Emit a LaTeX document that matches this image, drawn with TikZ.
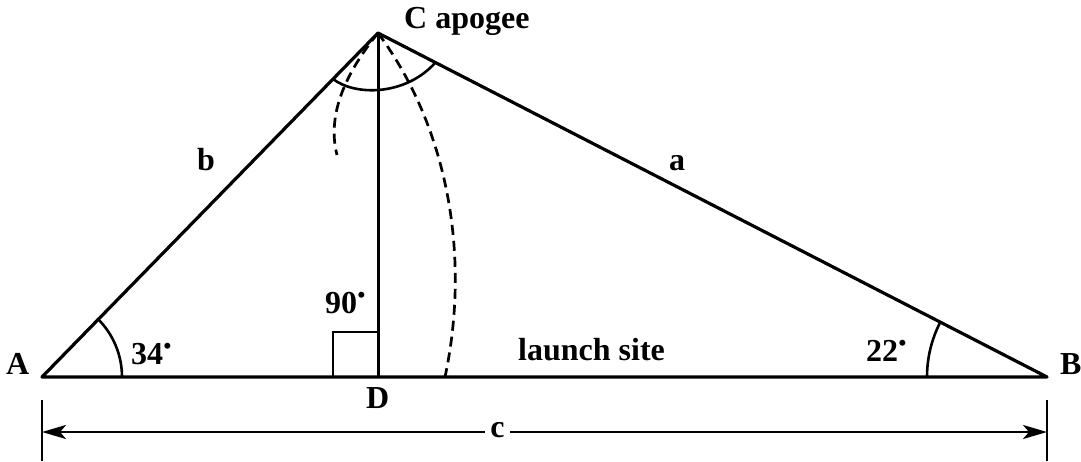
\documentclass[tikz,border=0pt]{standalone}
\usepackage{fontspec}
\setmainfont{Liberation Serif}
\usetikzlibrary{arrows.meta}
\newcommand\degdot{\raisebox{11pt}{\fontsize{22}{22}\selectfont\kern0.5pt•}}
\begin{document}
\begin{tikzpicture}[x=1pt,y=-1pt,
  side/.style={line width=3.2pt,line cap=round,line join=round},
  altline/.style={line width=3.0pt},
  arcline/.style={line width=2.6pt},
  dashline/.style={line width=2.7pt,dash pattern=on 10pt off 6pt},
  lbl/.style={font=\fontsize{32}{36}\selectfont\bfseries,inner sep=0pt,anchor=base west},
  dimline/.style={line width=2.6pt},
  dimarrow/.style={dimline,-{Stealth[length=24pt,width=14pt,inset=6pt]}}]
\useasboundingbox (0,0) rectangle (1081,461);
% vertices
\coordinate (A) at (42,377);
\coordinate (B) at (1047,377);
\coordinate (C) at (378,33);
\coordinate (D) at (378,377);
% triangle and altitude
\draw[side] (A) -- (C) -- (B) -- cycle;
\draw[altline] (C) -- (D);
% right angle
\draw[arcline] (333,377) -- (333,332) -- (378,332);
% angle arcs
\draw[arcline] (122,377) arc[start angle=0,end angle=-45.67,radius=82];
\draw[arcline] (927,377) arc[start angle=180,end angle=207.2,radius=120];
\draw[arcline] (333,79) .. controls (355,96) and (405,96) .. (435,63);
% dashed arcs
\draw[dashline] (C) .. controls (340,80) and (328,120) .. (337,155);
\draw[dashline] (C) .. controls (450,130) and (470,260) .. (445,377);
% labels
\node[lbl] (lC) at (404,28) {C apogee};
\node[lbl] (lb) at (197,170) {b};
\node[lbl] (la) at (669,170) {a};
\node[lbl] (ls) at (518,360) {launch site};
\node[lbl] (lA) at (6,374) {A};
\node[lbl] (lB) at (1060,374) {B};
\node[lbl] (lD) at (366,408) {D};
\node[lbl] (l34) at (131,364) {34\degdot};
\node[lbl] (l90) at (325,313) {90\degdot};
\node[lbl] (l22) at (866,361) {22\degdot};
% dimension
\coordinate (tA1) at (42,400);
\coordinate (tA2) at (42,461);
\coordinate (tB1) at (1047,400);
\coordinate (tB2) at (1047,461);
\draw[dimline] (tA1) -- (tA2);
\draw[dimline] (tB1) -- (tB2);
\coordinate (eA) at (42,432);
\coordinate (eB) at (1047,432);
\node[font=\fontsize{32}{36}\selectfont\bfseries,inner sep=0pt,minimum width=25pt,minimum height=20pt] (lc) at (497.5,430) {c};
\draw[dimarrow] (lc.west |- eA) -- (eA);
\draw[dimarrow] (lc.east |- eB) -- (eB);
\end{tikzpicture}
\end{document}
